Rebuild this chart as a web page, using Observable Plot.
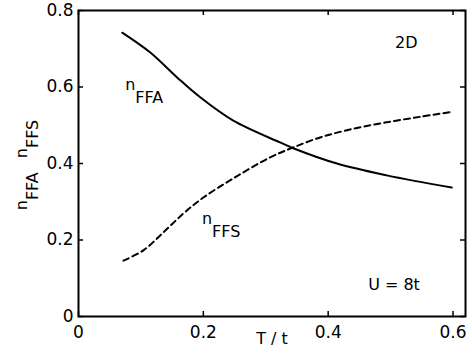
<!DOCTYPE html>
<html><head><meta charset="utf-8">
<script src="https://cdn.jsdelivr.net/npm/d3@7"></script>
<script src="https://cdn.jsdelivr.net/npm/@observablehq/plot@0.6"></script>
<style>html,body{margin:0;padding:0;background:#fff} svg{display:block}</style>
</head><body><div id="chart"></div>
<script>
// Data
const ffaT = [0.070, 0.115, 0.158, 0.195, 0.248, 0.323, 0.344, 0.414, 0.494, 0.598];
const ffaN = [0.742, 0.690, 0.625, 0.573, 0.512, 0.455, 0.440, 0.400, 0.369, 0.337];
const ffsT = [0.072, 0.104, 0.136, 0.168, 0.200, 0.248, 0.307, 0.344, 0.387, 0.435, 0.491, 0.547, 0.598];
const ffsN = [0.146, 0.173, 0.220, 0.269, 0.311, 0.361, 0.416, 0.442, 0.468, 0.489, 0.507, 0.522, 0.535];
const xTicks = [0, 0.2, 0.4, 0.6];
const yTicks = [0, 0.2, 0.4, 0.6, 0.8];
const xLabel = "T / t";
const curveLabelT = [0.075, 0.198];
const curveLabelN = [0.591, 0.243];
const curveLabelBase = ["n", "n"];
const curveLabelSub = ["FFA", "FFS"];
const noteT = [0.507, 0.464];
const noteN = [0.701, 0.068];
const noteText = ["2D", "U = 8t"];

const W = 472, H = 358;
const mL = 78, mR = 7, mT = 10, mB = 42;
const iw = W - mL - mR, ih = H - mT - mB;
const font = "DejaVu Sans";
const tk = 5;

const idx = a => d3.range(a.length);

const chart = Plot.plot({
  width: W, height: H,
  marginLeft: mL, marginRight: mR, marginTop: mT, marginBottom: mB,
  x: {domain: [0, 0.62]},
  y: {domain: [0, 0.8]},
  style: {fontFamily: font, fontSize: "17px", color: "black", background: "white"},
  marks: [
    Plot.frame({stroke: "black", strokeWidth: 2}),
    Plot.ruleX(xTicks, {x: d => d, insetTop: ih - tk, stroke: "black", strokeWidth: 1.5}),
    Plot.ruleX(xTicks, {x: d => d, insetBottom: ih - tk, stroke: "black", strokeWidth: 1.5}),
    Plot.ruleY(yTicks, {y: d => d, insetRight: iw - tk, stroke: "black", strokeWidth: 1.5}),
    Plot.ruleY(yTicks, {y: d => d, insetLeft: iw - tk, stroke: "black", strokeWidth: 1.5}),
    Plot.axisX(xTicks, {tickSize: 0, tickPadding: 9, label: null, fontSize: 17, tickFormat: d => String(d)}),
    Plot.axisY(yTicks, {tickSize: 0, tickPadding: 5, label: null, fontSize: 17, tickFormat: d => String(d)}),
    Plot.line(idx(ffaT), {x: i => ffaT[i], y: i => ffaN[i], curve: "catmull-rom", stroke: "black", strokeWidth: 2}),
    Plot.line(idx(ffsT), {x: i => ffsT[i], y: i => ffsN[i], curve: "catmull-rom", stroke: "black", strokeWidth: 2, strokeDasharray: "6,4"}),
    Plot.text(idx(curveLabelT), {x: i => curveLabelT[i], y: i => curveLabelN[i], text: i => curveLabelBase[i], textAnchor: "start", lineAnchor: "bottom", fontSize: 16, fill: "black"}),
    Plot.text(idx(curveLabelT), {x: i => curveLabelT[i], y: i => curveLabelN[i], text: i => curveLabelSub[i], textAnchor: "start", lineAnchor: "bottom", dx: 10, dy: 13, fontSize: 16, fill: "black"}),
    Plot.text(idx(noteT), {x: i => noteT[i], y: i => noteN[i], text: i => noteText[i], textAnchor: "start", lineAnchor: "bottom", fontSize: 16, fill: "black"}),
    Plot.text([xLabel], {frameAnchor: "bottom", text: d => d, dy: 27, lineAnchor: "bottom", fontSize: 16, fill: "black"})
  ]
});

// Rotated y-axis label with subscripts
const svg = d3.select(chart);
const yl = svg.append("text")
  .attr("transform", `translate(27,${mT + ih / 2 + 2}) rotate(-90)`)
  .attr("text-anchor", "middle")
  .attr("font-family", font)
  .attr("font-size", 16)
  .attr("fill", "black");
yl.append("tspan").text("n");
yl.append("tspan").attr("dy", 11).text("FFA");
yl.append("tspan").attr("dy", -11).attr("dx", 14).text("n");
yl.append("tspan").attr("dy", 11).text("FFS");

document.getElementById("chart").appendChild(chart);
</script>
</body></html>
